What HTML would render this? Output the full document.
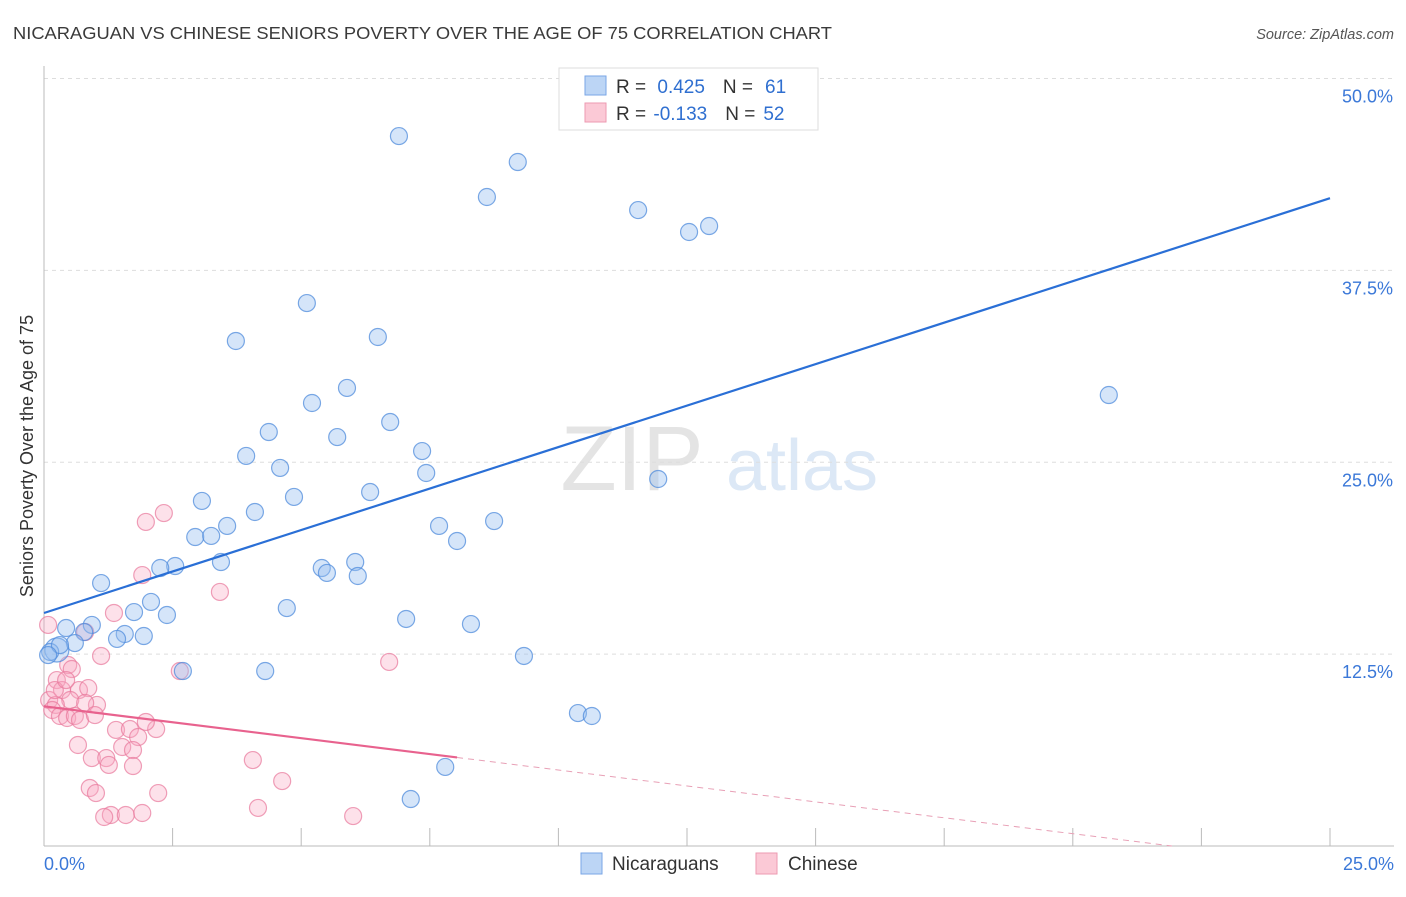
<!DOCTYPE html>
<html><head><meta charset="utf-8"><style>
body{margin:0;background:#fff;font-family:"Liberation Sans",sans-serif;}
svg text{font-family:"Liberation Sans",sans-serif;}
</style></head><body>
<svg id="chart" width="1406" height="892" xmlns="http://www.w3.org/2000/svg">
<text x="13" y="39" font-size="17.5" fill="#3a3a3a" textLength="819" lengthAdjust="spacingAndGlyphs">NICARAGUAN VS CHINESE SENIORS POVERTY OVER THE AGE OF 75 CORRELATION CHART</text>
<text x="1394" y="39" font-size="14.5" fill="#555" text-anchor="end" font-style="italic">Source: ZipAtlas.com</text>
<g>
<text x="632" y="490" font-size="92" fill="#e4e4e4" text-anchor="middle" font-family="Liberation Serif,serif">ZIP</text>
<text x="802" y="490" font-size="72" fill="#dce8f6" text-anchor="middle">atlas</text>
</g>
<g id="grid"></g>
<g id="axes"></g>
<g id="marks"></g>
<g>
<rect x="559" y="68" width="259" height="62" fill="#fff" stroke="#ddd"/>
<rect x="585" y="76" width="21" height="19" fill="#bcd5f5" stroke="#7aa6e6"/>
<rect x="585" y="103" width="21" height="19" fill="#fbc9d6" stroke="#ec9ab1"/>
<text x="616" y="93" font-size="19" fill="#333">R = <tspan fill="#2f6fd0" dx="6">0.425</tspan><tspan fill="#333" dx="18">N =</tspan><tspan fill="#2f6fd0" dx="12">61</tspan></text>
<text x="616" y="120" font-size="19" fill="#333">R = <tspan fill="#2f6fd0" dx="2">-0.133</tspan><tspan fill="#333" dx="18">N =</tspan><tspan fill="#2f6fd0" dx="8">52</tspan></text>
</g>
<g>
<rect x="581" y="853" width="21" height="21" fill="#bcd5f5" stroke="#7aa6e6"/>
<text x="612" y="870" font-size="19" fill="#333">Nicaraguans</text>
<rect x="756" y="853" width="21" height="21" fill="#fbc9d6" stroke="#ec9ab1"/>
<text x="788" y="870" font-size="19" fill="#333">Chinese</text>
</g>
<text transform="translate(33,456) rotate(-90)" font-size="18" fill="#333" text-anchor="middle">Seniors Poverty Over the Age of 75</text>
</svg>
<script>
const blueX=[6.90,9.21,8.61,11.55,12.54,12.93,5.11,3.73,6.49,5.89,5.21,5.70,6.73,4.37,3.93,7.35,4.59,7.43,11.94,3.07,4.86,6.34,4.10,3.56,8.75,7.68,2.94,3.25,8.03,3.44,6.05,2.55,2.26,5.40,5.50,6.10,1.11,2.08,1.75,2.39,4.72,7.04,8.30,0.93,0.43,0.78,1.57,1.94,1.42,0.60,0.25,0.12,2.70,4.30,9.33,10.38,10.65,7.80,7.13,20.70,0.31,0.08];
const blueY=[46.25,44.56,42.28,41.43,40.0,40.39,35.37,32.90,33.16,29.84,28.86,26.64,27.62,26.97,25.41,25.73,24.63,24.30,23.91,22.48,22.74,23.06,21.76,20.85,21.17,20.85,20.13,20.20,19.87,18.50,18.50,18.24,18.11,18.11,17.79,17.59,17.13,15.90,15.24,15.05,15.50,14.79,14.46,14.40,14.20,13.94,13.81,13.68,13.49,13.22,12.77,12.64,11.40,11.40,12.38,8.66,8.47,5.15,3.06,29.38,13.09,12.44];
const pinkX=[2.33,1.98,1.91,3.42,1.36,0.80,1.11,6.71,2.64,0.47,0.54,0.25,0.08,0.35,0.68,0.86,0.10,0.51,1.03,0.23,0.16,0.31,0.45,0.80,0.60,1.40,1.67,2.18,1.98,1.83,1.52,1.73,0.66,0.93,1.21,1.26,1.73,4.06,4.63,0.89,1.01,2.22,4.16,1.30,1.17,1.59,1.91,6.01,0.21,0.70,0.43,0.99];
const pinkY=[21.69,21.11,17.65,16.55,15.18,13.94,12.38,11.99,11.40,11.79,11.53,10.81,14.40,10.16,10.16,10.29,9.51,9.51,9.19,9.19,8.86,8.47,8.34,9.32,8.47,7.56,7.62,7.62,8.08,7.10,6.45,6.25,6.58,5.73,5.73,5.28,5.21,5.60,4.23,3.78,3.45,3.45,2.48,2.02,1.89,2.02,2.15,1.95,10.16,8.21,10.81,8.53];
const yTicks=[12.5,25.0,37.5,50.0];
const xTicks=[0,2.5,5,7.5,10,12.5,15,17.5,20,22.5,25];
const blueTrend=[15.18,42.2];
const pinkTrend=[9.1,-0.415];
const pinkSolidEnd=8.03;
const NS="http://www.w3.org/2000/svg";
const sx=v=>44+v*51.44, sy=v=>846-v*15.35;
function mk(p,t,a){const e=document.createElementNS(NS,t);for(const k in a)e.setAttribute(k,a[k]);p.appendChild(e);return e;}
const grid=document.getElementById('grid'),axes=document.getElementById('axes'),marks=document.getElementById('marks');
yTicks.forEach(t=>{
 const l=mk(grid,'line',{x1:44,x2:1394,y1:sy(t),y2:sy(t),stroke:'#ddd','stroke-dasharray':'4,4'});
 
 
 const tx=mk(axes,'text',{x:1393,y:sy(t)+24,'font-size':18,fill:'#3b78d8','text-anchor':'end'});tx.textContent=t.toFixed(1)+'%';
 
 
});
const al=mk(axes,'line',{x1:44,x2:44,y1:66,y2:846,stroke:'#bbb'});


const xl=mk(axes,'line',{x1:44,x2:1394,y1:846,y2:846,stroke:'#bbb'});


xTicks.forEach(t=>{const l=mk(axes,'line',{x1:sx(t),x2:sx(t),y1:828,y2:846,stroke:'#bbb'});
 
 });
[[0,'0.0%','start',44],[25,'25.0%','end',1394]].forEach(([v,s,a,x])=>{const t=mk(axes,'text',{x:x,y:870,'font-size':18,fill:'#3b78d8','text-anchor':a});t.textContent=s;
 
 });
pinkX.forEach((x,i)=>{const c=mk(marks,'circle',{cx:sx(x),cy:sy(pinkY[i]),r:8.5,fill:'rgba(248,170,195,0.35)',stroke:'rgba(232,120,155,0.7)','stroke-width':1.2});
 
 });
blueX.forEach((x,i)=>{const c=mk(marks,'circle',{cx:sx(x),cy:sy(blueY[i]),r:(i==50?12:8.5),fill:'rgba(150,190,240,0.4)',stroke:'rgba(80,140,220,0.75)','stroke-width':1.2});
 
 });
const bt=mk(marks,'line',{x1:sx(0),y1:sy(blueTrend[0]),x2:sx(25),y2:sy(blueTrend[1]),stroke:'#2a6fd6','stroke-width':2.2});


const pe=pinkTrend[0]+pinkTrend[1]*pinkSolidEnd, zx=-pinkTrend[0]/pinkTrend[1];
const pt=mk(marks,'line',{x1:sx(0),y1:sy(pinkTrend[0]),x2:sx(pinkSolidEnd),y2:sy(pe),stroke:'#e8628e','stroke-width':2.2});


const pd=mk(marks,'line',{x1:sx(pinkSolidEnd),y1:sy(pe),x2:sx(zx),y2:sy(0),stroke:'#e8a0b6','stroke-width':1,'stroke-dasharray':'6,5'});


</script>
</body></html>
